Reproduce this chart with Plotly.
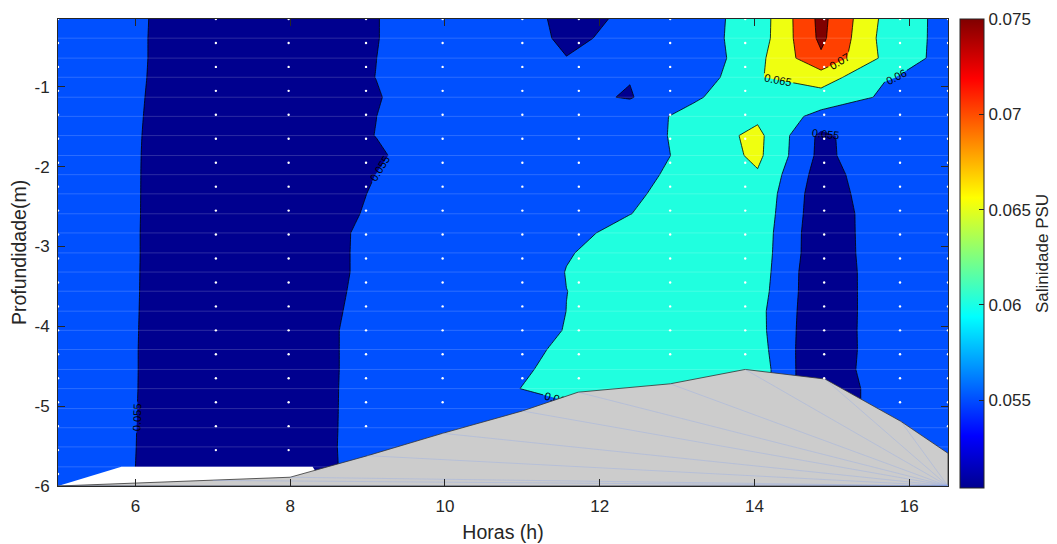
import plotly.graph_objects as go
import numpy as np

FONT = "Liberation Sans, Arial, Helvetica, sans-serif"
INK = "#262626"

# ---- interpolation grid used for the contour field (hours, depth in m) ----
grid_hours = [5.0, 5.82, 6.64, 7.46, 8.29, 9.11, 9.93, 10.75, 11.57, 12.39, 13.21, 14.04, 14.86, 15.68, 16.5]
grid_depth = [-6.0, -5.76, -5.51, -5.27, -5.03, -4.78, -4.54, -4.29, -4.05, -3.81, -3.56, -3.32, -3.08,
              -2.83, -2.59, -2.34, -2.1, -1.86, -1.61, -1.37, -1.13, -0.88, -0.64, -0.39, -0.15]

# ---- salinity (PSU), one list per grid column, bottom -> surface ----
sal_h05_00 = [0.0560, 0.0560, 0.0560, 0.0560, 0.0560, 0.0560, 0.0560, 0.0560, 0.0560, 0.0560, 0.0560, 0.0560, 0.0560,
              0.0560, 0.0560, 0.0560, 0.0560, 0.0560, 0.0560, 0.0560, 0.0560, 0.0560, 0.0560, 0.0560, 0.0560]
sal_h05_82 = [0.0560, 0.0560, 0.0560, 0.0560, 0.0560, 0.0560, 0.0560, 0.0560, 0.0560, 0.0560, 0.0560, 0.0560, 0.0560,
              0.0560, 0.0560, 0.0560, 0.0560, 0.0560, 0.0560, 0.0560, 0.0560, 0.0560, 0.0560, 0.0560, 0.0560]
sal_h06_64 = [0.0514, 0.05145, 0.0517, 0.05183, 0.0520, 0.05215, 0.0522, 0.0522, 0.0523, 0.0524, 0.0525, 0.05255, 0.0526,
              0.0526, 0.05267, 0.0527, 0.05272, 0.05277, 0.0529, 0.0531, 0.0533, 0.0535, 0.0536, 0.0536, 0.05367]
sal_h07_46 = [0.0520, 0.0520, 0.0520, 0.0520, 0.0520, 0.0520, 0.0520, 0.0520, 0.0520, 0.0520, 0.0520, 0.0520, 0.0520,
              0.0520, 0.0520, 0.0520, 0.0520, 0.0520, 0.0520, 0.0520, 0.0520, 0.0520, 0.0520, 0.0520, 0.0520]
sal_h08_29 = [0.0535, 0.0535, 0.0535, 0.0535, 0.0535, 0.0535, 0.0535, 0.0535, 0.0535, 0.0535, 0.0535, 0.0535, 0.0535,
              0.0535, 0.0535, 0.0535, 0.0535, 0.0535, 0.0535, 0.0535, 0.0535, 0.0535, 0.0535, 0.0535, 0.0535]
sal_h09_11 = [0.0572, 0.0572, 0.05735, 0.05725, 0.0572, 0.05716, 0.05707, 0.05707, 0.05707, 0.05663, 0.05628, 0.05604,
              0.05604, 0.0560, 0.05551, 0.05526, 0.05502, 0.05453, 0.05505, 0.05498, 0.05478, 0.05503, 0.05498,
              0.05489, 0.05489]
sal_h09_93 = [0.0570, 0.0570, 0.0570, 0.0570, 0.0570, 0.0570, 0.0570, 0.0570, 0.0570, 0.0570, 0.0570, 0.0570, 0.0570,
              0.0570, 0.0570, 0.0570, 0.0570, 0.0570, 0.0570, 0.0570, 0.0570, 0.0570, 0.0570, 0.0570, 0.0570]
sal_h10_75 = [0.0585, 0.0585, 0.0585, 0.0585, 0.0585, 0.05945, 0.05855, 0.0573, 0.0560, 0.0567, 0.0570, 0.0567, 0.0575,
              0.0575, 0.0575, 0.0575, 0.0575, 0.0575, 0.0575, 0.0575, 0.0575, 0.0575, 0.0580, 0.0590, 0.0585]
sal_h11_57 = [0.0590, 0.0590, 0.0590, 0.0590, 0.05912, 0.0615, 0.0615, 0.0612, 0.0603, 0.06002, 0.05998, 0.0601, 0.05977,
              0.05911, 0.0590, 0.0585, 0.0580, 0.0578, 0.0575, 0.0575, 0.05606, 0.0565, 0.05513, 0.0538, 0.0535]
sal_h12_39 = [0.0620, 0.0620, 0.0620, 0.0620, 0.0620, 0.0625, 0.0625, 0.0620, 0.0620, 0.0615, 0.0610, 0.0615, 0.0615,
              0.0610, 0.05995, 0.05945, 0.05868, 0.0584, 0.05741, 0.05767, 0.0547, 0.05518, 0.0565, 0.05666, 0.05577]
sal_h13_21 = [0.0620, 0.0620, 0.0620, 0.0620, 0.0620, 0.0620, 0.0620, 0.0620, 0.0620, 0.0620, 0.0620, 0.0620, 0.0620,
              0.0620, 0.0615, 0.0615, 0.0615, 0.0609, 0.0618, 0.0615, 0.05933, 0.0566, 0.0561, 0.05797, 0.0580]
sal_h14_04 = [0.0627, 0.0627, 0.0627, 0.0627, 0.0627, 0.0627, 0.0627, 0.0620, 0.0615, 0.0614, 0.0620, 0.0624, 0.0626,
              0.0628, 0.0632, 0.0636, 0.0645, 0.0661, 0.0663, 0.0640, 0.0635, 0.06472, 0.06362, 0.0622, 0.0620]
sal_h14_86 = [0.0500, 0.0500, 0.0500, 0.0500, 0.0500, 0.0500, 0.0499, 0.0503, 0.0508, 0.0511, 0.0511, 0.0510, 0.0515,
              0.0515, 0.0518, 0.0520, 0.0527, 0.0536, 0.0538, 0.0585, 0.06287, 0.0675, 0.0742, 0.0761, 0.0764]
sal_h15_68 = [0.0580, 0.0580, 0.0580, 0.0580, 0.0580, 0.0580, 0.0592, 0.0585, 0.0582, 0.0579, 0.0579, 0.0580, 0.0579,
              0.0580, 0.0578, 0.0584, 0.0586, 0.0592, 0.0590, 0.0590, 0.05937, 0.0602, 0.0640, 0.0633, 0.0638]
sal_h16_50 = [0.0580, 0.0580, 0.0580, 0.0580, 0.0580, 0.0580, 0.0580, 0.0580, 0.0580, 0.0580, 0.0580, 0.0580, 0.0580,
              0.0580, 0.0580, 0.0580, 0.0580, 0.0580, 0.0580, 0.0580, 0.0580, 0.0591, 0.0579, 0.0584, 0.0582]

salinity_columns = [sal_h05_00, sal_h05_82, sal_h06_64, sal_h07_46, sal_h08_29, sal_h09_11, sal_h09_93, sal_h10_75,
                    sal_h11_57, sal_h12_39, sal_h13_21, sal_h14_04, sal_h14_86, sal_h15_68, sal_h16_50]

# ---- sampling stations (white dots) ----
station_hours = [5.0, 7.04, 7.98, 8.98, 9.97, 11.0, 11.73, 12.91, 13.88, 14.9, 15.88, 16.5]
station_deepest = [-5.85, -5.55, -5.55, -5.25, -4.95, -4.65, -4.65, -4.35, -4.35, -4.65, -4.95, -5.25]
sample_depths = [-0.15, -0.45, -0.75, -1.05, -1.35, -1.65, -1.95, -2.25, -2.55, -2.85, -3.15, -3.45, -3.75,
                 -4.05, -4.35, -4.65, -4.95, -5.25, -5.55, -5.85]

# ---- river bed (bathymetry) ----
bottom_hours = [5.0, 7.0, 8.0, 9.0, 9.97, 11.0, 11.72, 12.91, 13.88, 14.91, 15.89, 16.5]
bottom_depth = [-6.0, -5.93, -5.89, -5.62, -5.34, -5.06, -4.825, -4.72, -4.54, -4.66, -5.19, -5.59]

# ---- blank (no-data) wedge near the bottom-left ----
blank_hours = [5.0, 5.82, 8.29, 8.45]
blank_depth = [-6.0, -5.76, -5.76, -6.0]

# ---- levels / colours / ticks ----
levels = [0.055, 0.06, 0.065, 0.07, 0.075]
level_text = ["0.055", "0.06", "0.065", "0.07", "0.075"]
x_ticks = [6, 8, 10, 12, 14, 16]
y_ticks = [-6, -5, -4, -3, -2, -1]
y_tick_text = ["-6", "-5", "-4", "-3", "-2", "-1"]
cmin, cmax = 0.0504, 0.075
band_colors = ["rgb(0,0,143)", "rgb(0,80,255)", "rgb(32,255,223)", "rgb(239,255,16)", "rgb(255,64,0)", "rgb(128,0,0)"]
jet = [[0.0, "rgb(0,0,143)"], [0.111, "rgb(0,0,255)"], [0.365, "rgb(0,255,255)"],
       [0.619, "rgb(255,255,0)"], [0.873, "rgb(255,0,0)"], [1.0, "rgb(128,0,0)"]]

# stepped colourscale: band k is centred at k/5 on plotly's contour colour domain
nb = len(band_colors)
band_scale = []
for k, c in enumerate(band_colors):
    lo = max(0.0, (k - 0.5) / (nb - 1))
    hi = min(1.0, (k + 0.5) / (nb - 1))
    band_scale += [[lo, c], [hi, c]]

z = np.array(salinity_columns).T

fig = go.Figure()

fig.add_trace(go.Contour(
    x=grid_hours, y=grid_depth, z=z,
    autocontour=False,
    contours=dict(start=levels[0], end=levels[-1], size=levels[1] - levels[0], coloring="fill",
                  showlabels=True, labelformat=".3~g",
                  labelfont=dict(size=11, color="black", family=FONT)),
    colorscale=band_scale, showscale=False,
    line=dict(color="black", width=0.8, smoothing=0),
    hoverinfo="skip"))

# faint rendering seams along the interpolation grid
sx, sy = [], []
for yv in grid_depth[1:-1]:
    sx += [grid_hours[0], grid_hours[-1], None]
    sy += [yv, yv, None]
fig.add_trace(go.Scatter(x=sx, y=sy, mode="lines", line=dict(color="rgba(255,255,255,0.17)", width=1),
                         hoverinfo="skip", showlegend=False))

# blank wedge
fig.add_trace(go.Scatter(x=blank_hours, y=blank_depth, fill="toself", fillcolor="white", mode="lines",
                         line=dict(width=0, color="white"), hoverinfo="skip", showlegend=False))

# river bed
bx = bottom_hours + [bottom_hours[-1], bottom_hours[0], bottom_hours[0]]
by = bottom_depth + [-6.0, -6.0, bottom_depth[0]]
fig.add_trace(go.Scatter(x=bx, y=by, fill="toself", fillcolor="rgb(204,204,204)", mode="lines",
                         line=dict(color="#333333", width=0.8), hoverinfo="skip", showlegend=False))

# faint fan lines inside the bed patch
fx, fy = [], []
for hx, dy in zip(bottom_hours[:-1], bottom_depth[:-1]):
    fx += [bottom_hours[-1], hx, None]
    fy += [-6.0, dy, None]
fig.add_trace(go.Scatter(x=fx, y=fy, mode="lines", line=dict(color="rgba(130,160,240,0.5)", width=0.6),
                         hoverinfo="skip", showlegend=False))

# sampling points
px, py = [], []
for hx, deep in zip(station_hours, station_deepest):
    for d in sample_depths:
        if d >= deep - 1e-9:
            px.append(hx)
            py.append(d)
fig.add_trace(go.Scatter(x=px, y=py, mode="markers", marker=dict(color="white", size=2.4, line=dict(width=0)),
                         hoverinfo="skip", showlegend=False))

# colour bar (continuous jet)
fig.add_trace(go.Scatter(
    x=[10], y=[-3], mode="markers", hoverinfo="skip", showlegend=False,
    marker=dict(size=1, opacity=0, color=[0.06], colorscale=jet, cmin=cmin, cmax=cmax, showscale=True,
                colorbar=dict(
                    x=1.0135, xanchor="left", y=0.498, yanchor="middle",
                    len=469, lenmode="pixels", thickness=24, thicknessmode="pixels",
                    xpad=0, ypad=0, outlinewidth=1, outlinecolor=INK,
                    ticks="inside", ticklen=5, tickcolor=INK, tickwidth=1,
                    tickvals=levels, ticktext=level_text,
                    tickfont=dict(size=17, color=INK, family=FONT),
                    title=dict(text="Salinidade PSU", side="right", font=dict(size=17, color=INK, family=FONT)),
                ))))

axis_common = dict(showline=True, linecolor=INK, linewidth=1, mirror="ticks", ticks="inside", ticklen=7,
                   tickwidth=1, tickcolor=INK, showgrid=False, zeroline=False, layer="above traces",
                   automargin=False, tickfont=dict(size=17, color=INK, family=FONT))

# the page body adds an 8 px offset, so the figure is 8 px smaller on each axis
fig.update_layout(
    width=1049, height=536,
    margin=dict(l=50, r=109, t=11, b=58, autoexpand=False),
    paper_bgcolor="white", plot_bgcolor="white",
    showlegend=False,
    xaxis=dict(range=[5, 16.5], tickvals=x_ticks, ticklabelstandoff=5,
               title=dict(text="Horas (h)", font=dict(size=19.5, color=INK, family=FONT), standoff=9),
               **axis_common),
    yaxis=dict(range=[-6, -0.15], tickvals=y_ticks, ticktext=y_tick_text, ticklabelstandoff=4,
               title=dict(text="Profundidade(m)", font=dict(size=19.5, color=INK, family=FONT), standoff=3),
               **axis_common),
)

fig.write_html("out.html")
